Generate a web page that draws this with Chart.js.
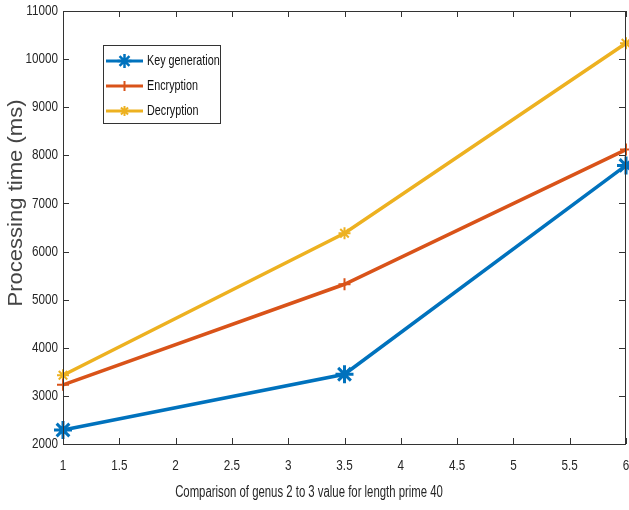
<!DOCTYPE html>
<html>
<head>
<meta charset="utf-8">
<script src="https://cdn.jsdelivr.net/npm/chart.js@4.4.1/dist/chart.umd.min.js"></script>
<style>
  html, body { margin: 0; padding: 0; background: #fff; }
  #wrap { width: 629px; height: 510px; }
</style>
</head>
<body>
<div id="wrap"><canvas id="c" width="629" height="510"></canvas></div>
<script>
// Genus value positions on the x axis
const genusPoints = [1, 3.5, 6];
// Processing times (ms)
const keyGeneration = [2290, 3450, 7790];
const encryption = [3230, 5320, 8120];
const decryption = [3430, 6380, 10330];
const seriesNames = ['Key generation', 'Encryption', 'Decryption'];
const xTicks = [1, 1.5, 2, 2.5, 3, 3.5, 4, 4.5, 5, 5.5, 6];
const yTicks = [2000, 3000, 4000, 5000, 6000, 7000, 8000, 9000, 10000, 11000];
const xTitle = 'Comparison of genus 2 to 3 value for length prime 40';
const yTitle = 'Processing time (ms)';

const sans = '"Liberation Sans", Arial, sans-serif';
const colors = ['#0072BD', '#D95319', '#EDB120'];

function toPoints(vals) {
  return genusPoints.map((x, i) => ({ x: x, y: vals[i] }));
}

// Draws text squeezed or stretched horizontally (narrow figure lettering)
function drawText(ctx, text, x, y, size, sx, align, color, rot) {
  ctx.save();
  ctx.translate(x, y);
  if (rot) ctx.rotate(rot);
  ctx.scale(sx, 1);
  ctx.font = size + 'px ' + sans;
  ctx.fillStyle = color;
  ctx.textAlign = align;
  ctx.textBaseline = 'middle';
  ctx.fillText(text, 0, 0);
  ctx.restore();
}

// Box around plot area with inward ticks, tick labels and axis titles
const boxPlugin = {
  id: 'box',
  afterDatasetsDraw(chart) {
    const { ctx, chartArea: a, scales } = chart;
    ctx.save();
    ctx.strokeStyle = '#333';
    ctx.lineWidth = 1;
    ctx.strokeRect(Math.round(a.left) + 0.5, Math.round(a.top) + 0.5,
      Math.round(a.right - a.left) - 1, Math.round(a.bottom - a.top));
    const tl = 6;
    ctx.beginPath();
    xTicks.forEach(v => {
      const px = Math.round(scales.x.getPixelForValue(v)) + 0.5;
      ctx.moveTo(px, a.bottom); ctx.lineTo(px, a.bottom - tl);
      ctx.moveTo(px, a.top); ctx.lineTo(px, a.top + tl);
    });
    yTicks.forEach(v => {
      const py = Math.round(scales.y.getPixelForValue(v)) + 0.5;
      ctx.moveTo(a.left, py); ctx.lineTo(a.left + tl, py);
      ctx.moveTo(a.right - 1, py); ctx.lineTo(a.right - 1 - tl, py);
    });
    ctx.stroke();
    ctx.restore();

    xTicks.forEach(v => {
      drawText(ctx, String(v), scales.x.getPixelForValue(v), a.bottom + 22, 15, 0.78, 'center', '#262626');
    });
    yTicks.forEach(v => {
      drawText(ctx, String(v), a.left - 5, scales.y.getPixelForValue(v), 15, 0.78, 'right', '#262626');
    });
    drawText(ctx, xTitle, 309, 493, 16, 0.71, 'center', '#262626');
    drawText(ctx, yTitle, 16, 203, 21, 1.05, 'center', '#444', -Math.PI / 2);
  }
};

// Legend drawn inside the plot area
const innerLegend = {
  id: 'innerLegend',
  afterDraw(chart) {
    const { ctx } = chart;
    const x0 = 103, y0 = 45, w = 117, h = 78;
    ctx.save();
    ctx.fillStyle = '#fff';
    ctx.fillRect(x0, y0, w, h);
    ctx.strokeStyle = '#333';
    ctx.lineWidth = 1;
    ctx.strokeRect(x0 + 0.5, y0 + 0.5, w, h);
    ctx.restore();
    const rows = [61, 86, 111];
    chart.data.datasets.forEach((ds, i) => {
      const y = rows[i];
      ctx.save();
      ctx.strokeStyle = ds.borderColor;
      ctx.lineWidth = 3;
      ctx.beginPath();
      ctx.moveTo(106, y); ctx.lineTo(143, y);
      ctx.stroke();
      const cx = 124.5;
      const r = i === 0 ? 7 : 5;
      ctx.lineWidth = i === 0 ? 2.5 : 2;
      ctx.beginPath();
      ctx.moveTo(cx, y - r); ctx.lineTo(cx, y + r);
      ctx.moveTo(cx - r, y); ctx.lineTo(cx + r, y);
      if (i !== 1) {
        const d = r * 0.707;
        ctx.moveTo(cx - d, y - d); ctx.lineTo(cx + d, y + d);
        ctx.moveTo(cx - d, y + d); ctx.lineTo(cx + d, y - d);
      }
      ctx.stroke();
      ctx.restore();
      drawText(ctx, ds.label, 147, y, 15, 0.72, 'left', '#111');
    });
  }
};

new Chart(document.getElementById('c'), {
  type: 'line',
  data: {
    datasets: [
      { label: seriesNames[0], data: toPoints(keyGeneration), borderColor: colors[0], backgroundColor: colors[0],
        pointStyle: 'star', pointRadius: 9, pointBorderWidth: 3 },
      { label: seriesNames[1], data: toPoints(encryption), borderColor: colors[1], backgroundColor: colors[1],
        pointStyle: 'cross', pointRadius: 6, pointBorderWidth: 2 },
      { label: seriesNames[2], data: toPoints(decryption), borderColor: colors[2], backgroundColor: colors[2],
        pointStyle: 'star', pointRadius: 6, pointBorderWidth: 2 }
    ].map(d => Object.assign({ borderWidth: 3.5, fill: false, tension: 0, clip: false }, d))
  },
  options: {
    responsive: false,
    animation: false,
    layout: { autoPadding: false, padding: { top: 11, right: 3, left: 0, bottom: 0 } },
    plugins: { legend: { display: false }, tooltip: { enabled: false } },
    scales: {
      x: {
        type: 'linear', min: 1, max: 6,
        afterBuildTicks(s) { s.ticks = xTicks.map(v => ({ value: v })); },
        afterFit(s) { s.height = 66; },
        grid: { display: false, drawTicks: false },
        border: { display: false },
        ticks: { display: false }
      },
      y: {
        min: 2000, max: 11000,
        afterBuildTicks(s) { s.ticks = yTicks.map(v => ({ value: v })); },
        afterFit(s) { s.width = 63; },
        grid: { display: false, drawTicks: false },
        border: { display: false },
        ticks: { display: false }
      }
    }
  },
  plugins: [boxPlugin, innerLegend]
});
</script>
</body>
</html>
